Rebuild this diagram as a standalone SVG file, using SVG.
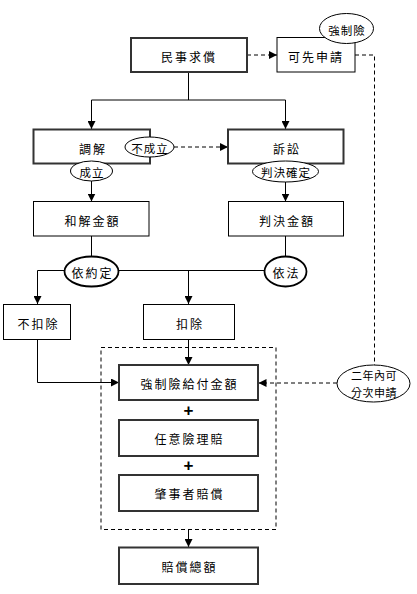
<svg xmlns="http://www.w3.org/2000/svg" width="417" height="594" viewBox="0 0 417 594">
<defs>
<marker id="ah" viewBox="0 0 10 10" refX="10" refY="5" markerWidth="8" markerHeight="8" markerUnits="userSpaceOnUse" orient="auto">
<path d="M0,0 L10,5 L0,10 z" fill="#000"/>
</marker>
</defs>
<style>
.bx{fill:#fff;stroke:#000;stroke-width:1}
.tk{fill:#fff;stroke:#333;stroke-width:2}
.el{fill:#fff;stroke:#000;stroke-width:1}
.elt{fill:#fff;stroke:#000;stroke-width:1.8}
.ln{fill:none;stroke:#000;stroke-width:1}
.ar{fill:none;stroke:#000;stroke-width:1;marker-end:url(#ah)}
.ds{fill:none;stroke:#000;stroke-width:1;stroke-dasharray:4 3}
.dsa{fill:none;stroke:#000;stroke-width:1;stroke-dasharray:4 3;marker-end:url(#ah)}
text{font-family:"Noto Sans CJK TC","Noto Sans CJK SC",sans-serif;font-size:12px;letter-spacing:2px;text-anchor:middle;dominant-baseline:central;fill:#000}
.et{font-size:11.5px;letter-spacing:1px}
.es{font-size:11px;letter-spacing:0.5px}
.pl{font-family:"Liberation Sans",sans-serif;font-size:17px;font-weight:bold;letter-spacing:0}
</style>
<rect x="0" y="0" width="417" height="594" fill="#fff"/>
<g id="connectors">
<path class="ln" d="M188.5,72 V100 M91.5,100 H285.5"/>
<path class="ar" d="M91.5,100 V129"/>
<path class="ar" d="M285.5,100 V129"/>
<path class="dsa" d="M247,55 H277"/>
<path class="ds" d="M355,55 H374.5 V365"/>
<path class="dsa" d="M174,147 H228"/>
<path class="ar" d="M91.5,163 V201.5"/>
<path class="ar" d="M285.5,163 V201.5"/>
<path class="ln" d="M91.5,236 V256 M285.5,236 V256"/>
<path class="ln" d="M37.5,270.5 H264"/>
<path class="ar" d="M37.5,270.5 V304"/>
<path class="ar" d="M188.5,270.5 V304"/>
<path class="ln" d="M37.5,339 V382.5"/>
<path class="ar" d="M37.5,382.5 H119"/>
<path class="ar" d="M188.5,339 V365"/>
<path class="dsa" d="M337,383 H258.5"/>
<rect class="ds" x="101" y="347.5" width="175" height="182"/>
<path class="ar" d="M188.5,529.5 V547"/>
</g>
<g id="n-minshi"><rect class="tk" x="131" y="38" width="116" height="34"/><text x="189" y="56">民事求償</text></g>
<g id="n-kexian"><rect class="bx" x="277" y="37.5" width="78" height="34.5"/><text x="316" y="56">可先申請</text></g>
<g id="n-qiangzhi"><ellipse class="el" cx="346.5" cy="28.5" rx="27" ry="15"/><text class="et" x="347" y="29.5">強制險</text></g>
<g id="n-tiaojie"><rect class="tk" x="33.5" y="129.5" width="116.5" height="34"/><text x="93" y="148">調解</text></g>
<g id="n-susong"><rect class="tk" x="228" y="129.5" width="115.5" height="34"/><text x="287" y="148">訴訟</text></g>
<g id="n-buchengli"><ellipse class="el" cx="149.5" cy="147" rx="24.5" ry="10"/><text class="et" x="150" y="147.5">不成立</text></g>
<g id="n-chengli"><ellipse class="el" cx="91.5" cy="171" rx="21" ry="10"/><text class="et" x="92" y="171.5">成立</text></g>
<g id="n-panjue"><ellipse class="el" cx="285.5" cy="171.5" rx="33" ry="10.5"/><text class="et" x="286" y="172">判決確定</text></g>
<g id="n-hejie"><rect class="bx" x="33.5" y="201.5" width="115.5" height="34.5"/><text x="92.5" y="220">和解金額</text></g>
<g id="n-panjuejine"><rect class="bx" x="228.5" y="201.5" width="115" height="34.5"/><text x="287" y="220">判決金額</text></g>
<g id="n-yiyueding"><ellipse class="elt" cx="91.5" cy="271.5" rx="27" ry="15"/><text x="92.5" y="272">依約定</text></g>
<g id="n-yifa"><ellipse class="elt" cx="285.5" cy="271.5" rx="21" ry="15"/><text x="286.5" y="272">依法</text></g>
<g id="n-bukouchu"><rect class="bx" x="3.5" y="304.5" width="67" height="35"/><text x="38.5" y="323">不扣除</text></g>
<g id="n-kouchu"><rect class="bx" x="143.5" y="304.5" width="91" height="35"/><text x="190" y="323">扣除</text></g>
<g id="n-qzxjine"><rect class="tk" x="119" y="365" width="139" height="35"/><text x="189.5" y="383">強制險給付金額</text></g>
<text class="pl" x="188.5" y="410">+</text>
<g id="n-renyi"><rect class="tk" x="119" y="420" width="139" height="36"/><text x="189.5" y="438.5">任意險理賠</text></g>
<text class="pl" x="188.5" y="465">+</text>
<g id="n-zhaoshi"><rect class="tk" x="119" y="475" width="139" height="36"/><text x="189.5" y="493.5">肇事者賠償</text></g>
<g id="n-zonge"><rect class="tk" x="119" y="547.5" width="139" height="36.5"/><text x="189.5" y="566.5">賠償總額</text></g>
<g id="n-ernian"><ellipse class="el" cx="373.5" cy="383.5" rx="36.5" ry="18.5"/><text class="es" x="374" y="375">二年內可</text><text class="es" x="374" y="391.5">分次申請</text></g>
</svg>
